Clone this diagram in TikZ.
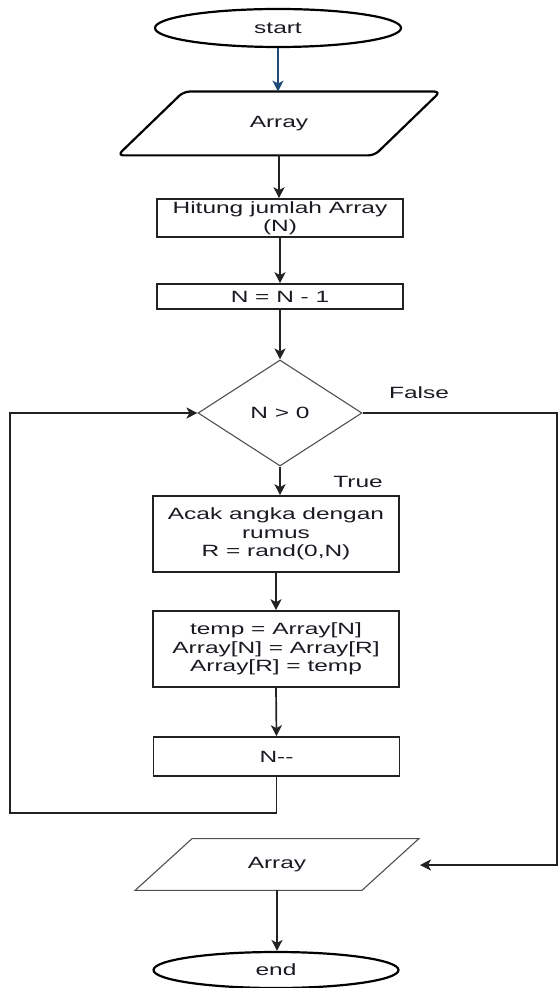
\documentclass[tikz,border=0pt]{standalone}
\usepackage{fontspec}
\newfontfamily\flowfont[FakeStretch=1.5]{Liberation Sans}
\usetikzlibrary{shapes.geometric,arrows.meta,calc}
\definecolor{ink}{HTML}{1A1A22}
\definecolor{edge}{HTML}{222222}
\definecolor{thinedge}{HTML}{505050}
\definecolor{startblue}{HTML}{1F4A78}

\begin{document}
\begin{tikzpicture}[x=0.5pt,y=-0.5pt,
  every node/.style={font=\flowfont\fontsize{8.15pt}{9.2pt}\selectfont, text=ink, align=center},
  terminal/.style={ellipse, draw=black, line width=1.1pt, inner sep=0pt, minimum width=123pt, minimum height=19pt},
  procbox/.style={rectangle, draw=edge, line width=0.8pt, inner sep=0pt, minimum width=123pt},
  decision/.style={diamond, draw=thinedge, line width=0.55pt, inner sep=0pt, aspect=1.55, minimum width=82pt, minimum height=53pt},
  iobox/.style={rectangle, inner sep=0pt},
  flow/.style={draw=edge, line width=0.85pt, -{Stealth[length=5.5pt,width=5.5pt,inset=1.5pt]}},
  tag/.style={inner sep=0pt}
]
\useasboundingbox[fill=white] (0,0) rectangle (559,988);

% terminals, process boxes, decision and input/output blocks
\node[terminal] (start) at (278,28) {start};

\node[iobox, minimum width=128pt, minimum height=31.5pt] (in) at (279,123.5) {Array};
\draw[line width=1.1pt, black, rounded corners=3pt]
  ([xshift=16.5pt]in.north west) -- ([xshift=16.5pt]in.north east)
  -- ([xshift=-16.5pt]in.south east) -- ([xshift=-16.5pt]in.south west) -- cycle;

\node[procbox, minimum height=19pt] (count) at (280,218) {Hitung jumlah Array\\(N)};
\node[procbox, minimum height=12.5pt] (dec1) at (280,296.5) {N = N - 1};
\node[decision] (test) at (280,413) {N > 0};
\node[procbox, minimum height=38pt] (rand) at (276,534) {Acak angka dengan\\rumus\\R = rand(0,N)};
\node[procbox, minimum height=38pt] (swap) at (276,649) {temp = Array[N]\\Array[N] = Array[R]\\Array[R] = temp};
\node[procbox, minimum height=19.5pt] (dec2) at (276.5,756.5) {N-{}-};

\node[iobox, minimum width=113pt, minimum height=25.5pt] (out) at (277,864.5) {Array};
\draw[thinedge, line width=0.55pt]
  ([xshift=14.25pt]out.north west) -- ([xshift=14.25pt]out.north east)
  -- ([xshift=-14.25pt]out.south east) -- ([xshift=-14.25pt]out.south west) -- cycle;

\node[terminal, minimum width=122.5pt, minimum height=18pt] (end) at (276,970) {end};

% branch labels
\node[tag] (falselbl) at (419,393) {False};
\node[tag] (truelbl) at (358,482) {True};

% routing points of the loop-back and exit lines
\coordinate (leftrail) at (10,813);
\coordinate (rightrail) at (557,413);
\coordinate (outarrow) at (420,865);

% connectors
\draw[flow, draw=startblue] (start.south) -- (start.south |- in.north);
\draw[flow] (in.south) -- (in.south |- count.north);
\draw[flow] (count.south) -- (dec1.north);
\draw[flow] (dec1.south) -- (test.north);
\draw[flow] (test.south) -- (test.south |- rand.north);
\draw[flow] (rand.south) -- (swap.north);
\draw[flow] (swap.south) -- (dec2.north);
\draw[flow] (dec2.south) -- (dec2.south |- leftrail) -- (leftrail)
  -- (leftrail |- test.west) -- (test.west);
\draw[flow] (test.east) -- (rightrail) -- (rightrail |- outarrow) -- (outarrow);
\draw[flow] (out.south) -- (out.south |- end.north);
\end{tikzpicture}
\end{document}
